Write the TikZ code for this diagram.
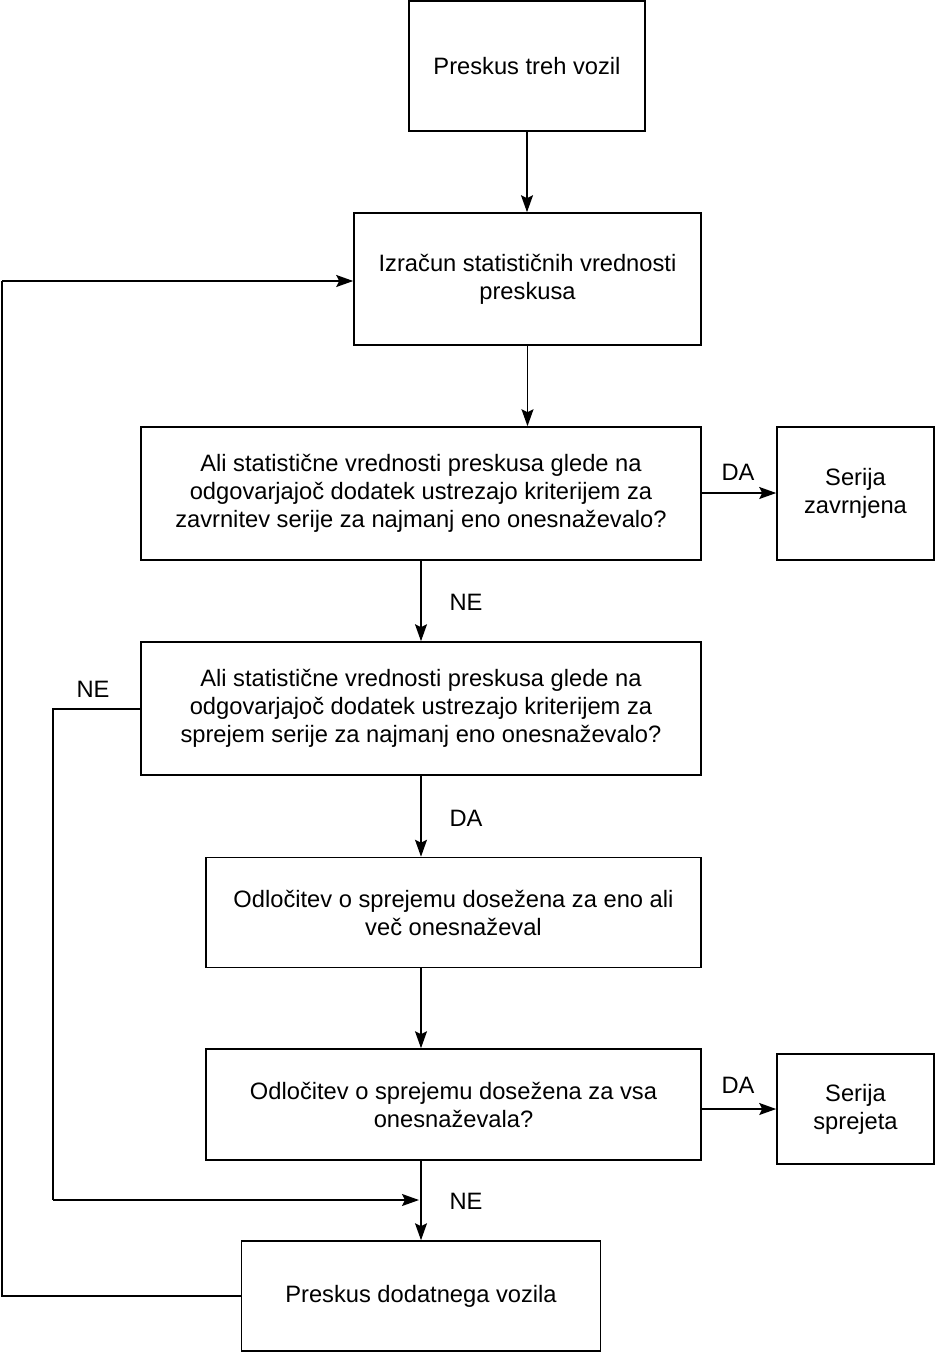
\documentclass[tikz,border=0pt]{standalone}
\usepackage{fontspec}
\setmainfont{Liberation Sans}
\usetikzlibrary{arrows.meta}
\begin{document}
\begin{tikzpicture}[x=1pt,y=-1pt,
  box/.style={draw, line width=1.6pt, rectangle, inner sep=0pt, align=center,
    font=\fontsize{23.7}{28}\selectfont},
  lbl/.style={font=\fontsize{23.7}{28}\selectfont, inner sep=0pt},
  conn/.style={line width=1.6pt, -{Stealth[length=17pt,width=12pt,inset=3pt]}},
  plain/.style={line width=1.6pt}]
\useasboundingbox (0,0) rectangle (936,1353);
\node[box, minimum width=236pt, minimum height=130pt] (b1) at (527,66) {\raisebox{-2pt}{Preskus treh vozil}};
\node[box, minimum width=347pt, minimum height=132pt] (b2) at (527.5,279) {\raisebox{-1pt}{\parbox{340pt}{\centering Izračun statističnih vrednosti\\preskusa}}};
\node[box, minimum width=560pt, minimum height=133pt] (b3) at (421,493.5) {Ali statistične vrednosti preskusa glede na\\odgovarjajoč dodatek ustrezajo kriterijem za\\zavrnitev serije za najmanj eno onesnaževalo?};
\node[box, minimum width=157pt, minimum height=133pt] (b4) at (855.5,493.5) {Serija\\zavrnjena};
\node[box, minimum width=560pt, minimum height=133pt] (b5) at (421,708.5) {Ali statistične vrednosti preskusa glede na\\odgovarjajoč dodatek ustrezajo kriterijem za\\sprejem serije za najmanj eno onesnaževalo?};
\node[box, minimum width=495pt, minimum height=110pt] (b6) at (453.5,912.5) {Odločitev o sprejemu dosežena za eno ali\\več onesnaževal};
\node[box, minimum width=495pt, minimum height=111pt] (b7) at (453.5,1104.5) {Odločitev o sprejemu dosežena za vsa\\onesnaževala?};
\node[box, minimum width=157pt, minimum height=110pt] (b8) at (855.5,1109) {Serija\\sprejeta};
\node[box, minimum width=359pt, minimum height=110pt] (b9) at (421,1296) {Preskus dodatnega vozila};

\draw[conn] (b1.south) -- (b2.north -| b1.south);
\draw[conn] (b2.south) -- (b3.north -| b2.south);
\draw[conn] (b3.east |- 0,493) -- (b4.west |- 0,493);
\draw[conn] (b3.south) -- (b5.north);
\draw[conn] (b5.south) -- (b6.north -| b5.south);
\draw[conn] (b6.south -| b5.south) -- (b7.north -| b5.south);
\draw[conn] (b7.east |- 0,1109) -- (b8.west |- 0,1109);
\draw[conn] (b7.south -| b5.south) -- (b9.north);

\coordinate (l1) at (53,709);
\coordinate (l2) at (53,1200);
\coordinate (l3) at (419,1200);
\draw[plain] (b5.west |- l1) -- (l1) -- (l2);
\draw[conn] (l2) -- (l3);

\coordinate (r1) at (2,1296);
\coordinate (r2) at (2,281);
\draw[plain] (b9.west |- r1) -- (r1) -- (r2);
\draw[conn] (r2) -- (b2.west |- r2);

\node[lbl] (t1) at (466,602) {NE};
\node[lbl] (t2) at (466,818) {DA};
\node[lbl] (t3) at (466,1201) {NE};
\node[lbl] (t4) at (738,472) {DA};
\node[lbl] (t5) at (738,1085) {DA};
\node[lbl] (t6) at (93,689) {NE};
\end{tikzpicture}
\end{document}
